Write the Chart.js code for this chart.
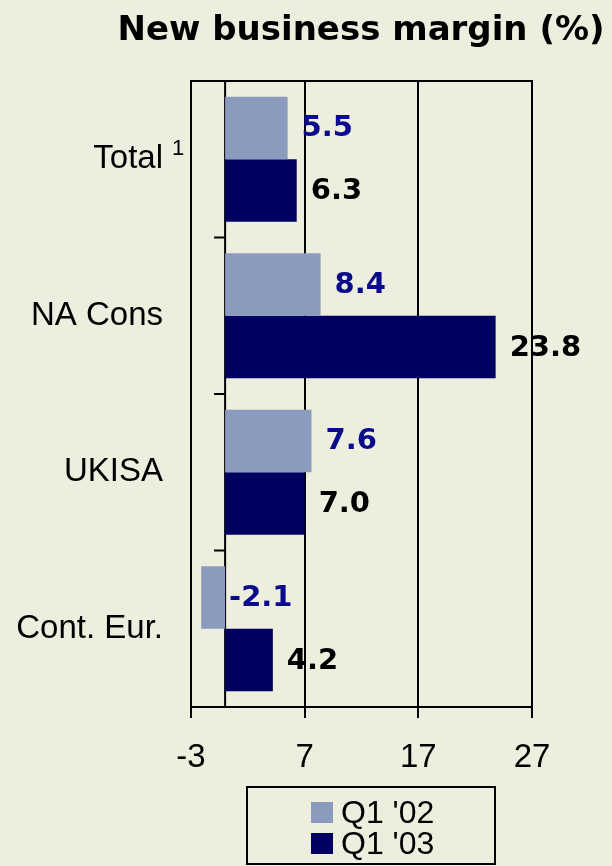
<!DOCTYPE html>
<html>
<head>
<meta charset="utf-8">
<script src="https://cdn.jsdelivr.net/npm/chart.js@4/dist/chart.umd.min.js"></script>
<style>
  html, body { margin: 0; padding: 0; background: #EEEEDE; }
  canvas { display: block; }
</style>
</head>
<body>
<canvas id="c" width="612" height="866"></canvas>
<script>
const categories = ["Total", "NA Cons", "UKISA", "Cont. Eur."];
const seriesNames = ["Q1 '02", "Q1 '03"];
const q1_02 = [5.5, 8.4, 7.6, -2.1];
const q1_03 = [6.3, 23.8, 7.0, 4.2];
const xTicks = [-3, 7, 17, 27];
const footnoteMark = "1";
const titleText = "New business margin (%)";

const BG = "#EEEEDE";
const LIGHT = "#8A9BBD";
const NAVY = "#000060";
const LABEL_COLORS = ["#0A0A8C", "#000000"];

const decorPlugin = {
  id: "decor",
  beforeDraw(chart) {
    const ctx = chart.ctx;
    ctx.save();
    ctx.fillStyle = BG;
    ctx.fillRect(0, 0, chart.width, chart.height);
    ctx.restore();
  },
  beforeDatasetsDraw(chart) {
    const ctx = chart.ctx;
    const a = chart.chartArea;
    const xs = chart.scales.x;
    const x0 = xs.getPixelForValue(0);
    ctx.save();
    ctx.strokeStyle = "#000";
    ctx.lineWidth = 2;
    ctx.strokeRect(a.left, a.top, a.right - a.left, a.bottom - a.top);
    ctx.beginPath();
    ctx.moveTo(x0, a.top);
    ctx.lineTo(x0, a.bottom);
    ctx.stroke();
    const n = chart.data.labels.length;
    for (let i = 0; i <= n; i++) {
      const y = a.top + i * (a.bottom - a.top) / n;
      ctx.beginPath();
      ctx.moveTo(x0 - 11, y);
      ctx.lineTo(x0, y);
      ctx.stroke();
    }
    ctx.restore();
  },
  afterDatasetsDraw(chart) {
    const ctx = chart.ctx;
    ctx.save();
    ctx.font = "bold 29px 'DejaVu Sans'";
    ctx.textBaseline = "middle";
    ctx.textAlign = "left";
    chart.data.datasets.forEach((ds, di) => {
      const meta = chart.getDatasetMeta(di);
      ctx.fillStyle = LABEL_COLORS[di];
      meta.data.forEach((el, i) => {
        const v = ds.data[i];
        const end = v >= 0 ? el.x : el.base;
        const gap = v >= 0 ? 14 : 4;
        ctx.fillText(v.toFixed(1), end + gap, el.y + 1);
      });
    });
    ctx.restore();
  },
  afterDraw(chart) {
    const ctx = chart.ctx;
    ctx.save();
    ctx.fillStyle = "#000";
    ctx.font = "bold 34px 'DejaVu Sans'";
    ctx.textAlign = "center";
    ctx.textBaseline = "alphabetic";
    ctx.fillText(titleText, 361, 40);
    ctx.font = "22px 'Liberation Sans'";
    ctx.textAlign = "left";
    ctx.fillText(footnoteMark, 172, 155);
    const lx = 247, ly = 787, lw = 248, lh = 77;
    ctx.lineWidth = 2;
    ctx.strokeStyle = "#000";
    ctx.strokeRect(lx, ly, lw, lh);
    ctx.font = "32px 'Liberation Sans'";
    ctx.textBaseline = "alphabetic";
    chart.data.datasets.forEach((ds, di) => {
      const top = 802 + di * 31;
      ctx.fillStyle = ds.backgroundColor;
      ctx.fillRect(311, top, 22, 21);
      ctx.fillStyle = "#000";
      ctx.fillText(ds.label, 341, top + 21);
    });
    ctx.restore();
  }
};

new Chart(document.getElementById("c"), {
  type: "bar",
  data: {
    labels: categories,
    datasets: [
      { label: seriesNames[0], data: q1_02, backgroundColor: LIGHT,
        categoryPercentage: 0.8, barPercentage: 1.0 },
      { label: seriesNames[1], data: q1_03, backgroundColor: NAVY,
        categoryPercentage: 0.8, barPercentage: 1.0 }
    ]
  },
  options: {
    indexAxis: "y",
    responsive: false,
    animation: false,
    devicePixelRatio: 1,
    layout: { padding: { top: 81, right: 80, bottom: 0, left: 0 } },
    plugins: {
      legend: { display: false },
      title: { display: false },
      tooltip: { enabled: false }
    },
    scales: {
      x: {
        type: "linear",
        position: "bottom",
        min: xTicks[0],
        max: xTicks[xTicks.length - 1],
        afterBuildTicks: (s) => { s.ticks = xTicks.map(v => ({ value: v })); },
        afterFit: (s) => { s.height = 159; },
        grid: { color: "#000", lineWidth: 2, tickLength: 11, drawTicks: true, tickColor: "#000" },
        border: { display: true, color: "#000", width: 2 },
        ticks: {
          color: "#000",
          font: { family: "'Liberation Sans'", size: 33 },
          padding: 20,
          maxRotation: 0,
          autoSkip: false
        }
      },
      y: {
        type: "category",
        afterFit: (s) => { s.width = 191; },
        grid: { display: false },
        border: { display: false },
        ticks: {
          color: "#000",
          font: { family: "'Liberation Sans'", size: 33 },
          padding: 20
        }
      }
    }
  },
  plugins: [decorPlugin]
});
</script>
</body>
</html>
